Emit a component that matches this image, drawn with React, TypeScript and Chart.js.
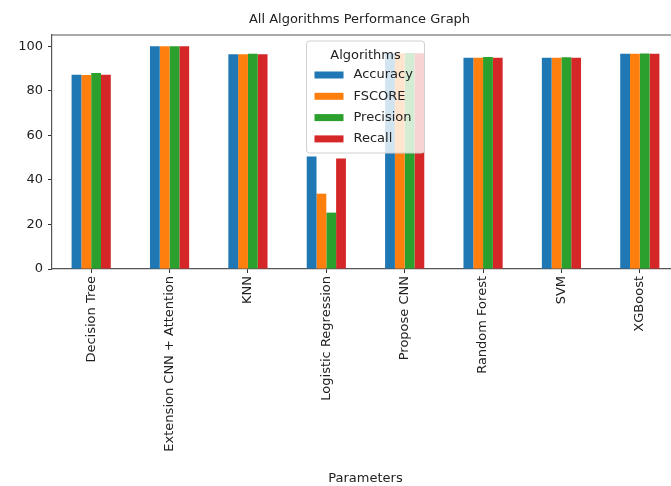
import React, { useEffect, useRef } from "react";
import { Chart, registerables } from "chart.js";

Chart.register(...registerables);

const categories = [
  "Decision Tree",
  "Extension CNN + Attention",
  "KNN",
  "Logistic Regression",
  "Propose CNN",
  "Random Forest",
  "SVM",
  "XGBoost",
];
const accuracy = [87.2, 99.9, 96.4, 50.5, 96.8, 94.8, 94.8, 96.6];
const fscore = [87.1, 99.9, 96.4, 33.8, 96.8, 94.8, 94.8, 96.6];
const precision = [88.0, 99.9, 96.6, 25.3, 96.9, 95.1, 95.0, 96.7];
const recall = [87.2, 99.9, 96.4, 49.6, 96.8, 94.8, 94.8, 96.6];
const seriesNames = ["Accuracy", "FSCORE", "Precision", "Recall"];
const seriesColors = ["#1f77b4", "#ff7f0e", "#2ca02c", "#d62728"];
const yTicks = [0, 20, 40, 60, 80, 100];
const chartTitle = "All Algorithms Performance Graph";
const xTitle = "Parameters";
const legendTitle = "Algorithms";

const FONT = "'DejaVu Sans', sans-serif";

const overlay = {
  id: "overlay",
  afterDatasetsDraw(chart: any) {
    const { ctx, chartArea: a } = chart;
    ctx.save();
    ctx.strokeStyle = "#555";
    ctx.lineWidth = 1.2;
    ctx.beginPath();
    ctx.moveTo(a.left, a.top);
    ctx.lineTo(a.right, a.top);
    ctx.lineTo(a.right, a.bottom);
    ctx.stroke();

    ctx.fillStyle = "#222";
    ctx.font = `13px ${FONT}`;
    ctx.textAlign = "center";
    ctx.textBaseline = "middle";
    const cx = (a.left + a.right) / 2;
    ctx.fillText(chartTitle, cx - 6, a.top - 15);

    const w = 118;
    const h = 112;
    const x0 = cx - w / 2;
    const y0 = a.top + 6;
    ctx.beginPath();
    const r = 3;
    ctx.moveTo(x0 + r, y0);
    ctx.lineTo(x0 + w - r, y0);
    ctx.quadraticCurveTo(x0 + w, y0, x0 + w, y0 + r);
    ctx.lineTo(x0 + w, y0 + h - r);
    ctx.quadraticCurveTo(x0 + w, y0 + h, x0 + w - r, y0 + h);
    ctx.lineTo(x0 + r, y0 + h);
    ctx.quadraticCurveTo(x0, y0 + h, x0, y0 + h - r);
    ctx.lineTo(x0, y0 + r);
    ctx.quadraticCurveTo(x0, y0, x0 + r, y0);
    ctx.closePath();
    ctx.fillStyle = "rgba(255,255,255,0.8)";
    ctx.fill();
    ctx.strokeStyle = "#d0d0d0";
    ctx.lineWidth = 1;
    ctx.stroke();

    ctx.fillStyle = "#222";
    ctx.font = `13px ${FONT}`;
    ctx.textAlign = "center";
    ctx.textBaseline = "middle";
    ctx.fillText(legendTitle, cx, y0 + 15);
    ctx.textAlign = "left";
    chart.data.datasets.forEach((ds: any, i: number) => {
      const yy = y0 + 34 + i * 21.3;
      ctx.fillStyle = ds.backgroundColor;
      ctx.fillRect(x0 + 8, yy - 3.5, 29, 7);
      ctx.fillStyle = "#222";
      ctx.fillText(ds.label, x0 + 47, yy);
    });
    ctx.restore();
  },
};

export default function App() {
  const ref = useRef<HTMLCanvasElement | null>(null);
  useEffect(() => {
    if (!ref.current) return;
    const seriesData = [accuracy, fscore, precision, recall];
    const chart = new Chart(ref.current, {
      type: "bar",
      data: {
        labels: categories,
        datasets: seriesNames.map((name, i) => ({
          label: name,
          data: seriesData[i],
          backgroundColor: seriesColors[i],
          borderWidth: 0,
          categoryPercentage: 0.5,
          barPercentage: 1.0,
        })),
      },
      options: {
        animation: false,
        responsive: true,
        maintainAspectRatio: false,
        layout: { padding: { top: 35, left: 0, right: 0, bottom: 0 } },
        plugins: {
          legend: { display: false },
          title: { display: false },
          tooltip: { enabled: false },
        },
        scales: {
          x: {
            offset: true,
            grid: {
              offset: false,
              drawOnChartArea: false,
              drawTicks: true,
              tickLength: 4,
              tickColor: "#333",
            },
            border: { display: true, color: "#555", width: 1.2 },
            ticks: {
              autoSkip: false,
              maxRotation: 90,
              minRotation: 90,
              color: "#222",
              padding: 3,
              font: { family: FONT, size: 13 },
            },
            title: {
              display: true,
              text: xTitle,
              color: "#222",
              font: { family: FONT, size: 13 },
              padding: { top: 4, bottom: 0 },
            },
            afterFit(scale: any) {
              scale.height = 217;
            },
          },
          y: {
            min: 0,
            max: 105,
            afterBuildTicks(scale: any) {
              scale.ticks = yTicks.map((v) => ({ value: v }));
            },
            grid: {
              drawOnChartArea: false,
              drawTicks: true,
              tickLength: 4,
              tickColor: "#333",
            },
            border: { display: true, color: "#555", width: 1.2 },
            ticks: {
              color: "#222",
              padding: 5,
              font: { family: FONT, size: 13 },
            },
            afterFit(scale: any) {
              scale.width = 52;
            },
          },
        },
      },
      plugins: [overlay],
    });
    return () => chart.destroy();
  }, []);

  return (
    <div
      style={{
        position: "absolute",
        left: 0,
        top: 0,
        width: 671,
        height: 486,
        overflow: "hidden",
        background: "#fff",
      }}
    >
      <div style={{ position: "relative", width: 679, height: 486 }}>
        <canvas ref={ref} />
      </div>
    </div>
  );
}
